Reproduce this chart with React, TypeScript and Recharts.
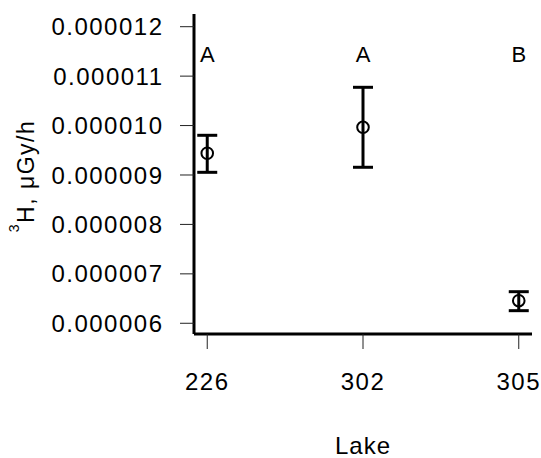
import { ScatterChart, Scatter, XAxis, YAxis, ErrorBar, Label } from "recharts";

const lakes = ["226", "302", "305"];
const means = [9.44e-6, 9.965e-6, 6.457e-6];
const lowers = [9.054e-6, 9.156e-6, 6.255e-6];
const uppers = [9.803e-6, 10.774e-6, 6.639e-6];
const letters = ["A", "A", "B"];
const letterLevels = [11.43e-6, 11.43e-6, 11.43e-6];
const yTicks = [0.000006, 0.000007, 0.000008, 0.000009, 0.00001, 0.000011, 0.000012];

const points = lakes.map((lake, i) => ({
  x: i + 1,
  y: means[i],
  lake,
  err: [means[i] - lowers[i], uppers[i] - means[i]],
}));

const letterData = lakes.map((lake, i) => ({
  x: i + 1,
  y: letterLevels[i],
  letter: letters[i],
}));

const tickStyle = { fontSize: 24, fill: "#000", letterSpacing: 1.5 };

// rotated y label with a superscript 3
const YLabel = (props: any) => {
  const vb = props.viewBox;
  const cy = vb ? vb.y + vb.height / 2 + 2 : 176;
  const cx = 34;
  return (
    <text
      x={cx}
      y={cy}
      transform={`rotate(-90, ${cx}, ${cy})`}
      textAnchor="middle"
      fontSize={23}
      letterSpacing={1.5}
      fill="#000"
    >
      <tspan fontSize={14} dy={-15}>3</tspan>
      <tspan dy={15}>H, μGy/h</tspan>
    </text>
  );
};

const XLabel = (props: any) => {
  const vb = props.viewBox;
  const cx = vb ? vb.x + vb.width / 2 : 363;
  return (
    <text x={cx} y={454} textAnchor="middle" fontSize={24} fill="#000" letterSpacing={1}>
      Lake
    </text>
  );
};

export default function App() {
  return (
    <div
      style={{
        position: "absolute",
        left: 0,
        top: 0,
        width: 541,
        height: 458,
        background: "#fff",
        fontFamily: "'Liberation Sans', Arial, sans-serif",
      }}
    >
      <ScatterChart width={541} height={458} margin={{ top: 14, right: 9, left: 0, bottom: 0 }}>
        <XAxis
          type="number"
          dataKey="x"
          domain={[0.915, 3.085]}
          ticks={[1, 2, 3]}
          tickFormatter={(v: number) => lakes[v - 1]}
          allowDataOverflow
          height={124}
          tickSize={15}
          tickMargin={24}
          tick={tickStyle}
          axisLine={{ stroke: "#000", strokeWidth: 3 }}
          tickLine={{ stroke: "#222", strokeWidth: 1 }}
        >
          <Label content={XLabel} />
        </XAxis>
        <YAxis
          type="number"
          dataKey="y"
          domain={[5.783e-6, 12.257e-6]}
          ticks={yTicks}
          tickFormatter={(v: number) => v.toFixed(6)}
          allowDataOverflow
          width={194}
          tickSize={14}
          tickMargin={16.5}
          tick={tickStyle}
          axisLine={{ stroke: "#000", strokeWidth: 3 }}
          tickLine={{ stroke: "#222", strokeWidth: 1 }}
        >
          <Label content={YLabel} />
        </YAxis>
        <Scatter
          data={points}
          isAnimationActive={false}
          shape={(p: any) => (
            <circle cx={p.cx} cy={p.cy} r={5.8} fill="none" stroke="#000" strokeWidth={2} />
          )}
        >
          <ErrorBar dataKey="err" direction="y" width={10} strokeWidth={3} stroke="#000" />
        </Scatter>
        <Scatter
          data={letterData}
          isAnimationActive={false}
          shape={(p: any) => (
            <text
              x={p.cx}
              y={p.cy}
              textAnchor="middle"
              dominantBaseline="central"
              fontSize={22}
              fill="#000"
            >
              {p.payload.letter}
            </text>
          )}
        />
      </ScatterChart>
    </div>
  );
}
